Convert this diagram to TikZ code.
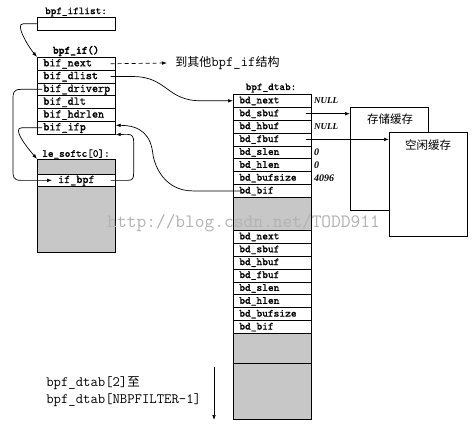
\documentclass[tikz,border=0pt]{standalone}
\usepackage{fontspec}
\setmainfont{Liberation Serif}
\newfontfamily\fldtt[FakeBold=1.2]{Latin Modern Mono}
\newfontfamily\boldtt[FakeBold=3]{Latin Modern Mono}
\newfontfamily\plaintt{Latin Modern Mono}
\newfontfamily\cjk{Noto Sans CJK SC}
\usetikzlibrary{arrows.meta}
\begin{document}
\begin{tikzpicture}[x=1pt,y=-1pt, line width=0.7pt,
 fld/.style={draw, fill=white, anchor=north west, minimum width=78pt, minimum height=12.8pt, text width=66pt, inner xsep=6pt, inner ysep=0pt, text height=7.5pt, text depth=2.3pt, align=left, font=\fldtt\fontsize{11.8}{13}\selectfont},
 dfld/.style={fld, minimum height=12.875pt, font=\fldtt\fontsize{10.9}{12}\selectfont},
 grayblk/.style={draw, fill=black!22, anchor=north west, minimum width=78pt, inner sep=0pt},
 ttl/.style={font=\fldtt\fontsize{10.7}{12}\selectfont, inner sep=0pt},
 val/.style={anchor=west, inner sep=0pt, font=\bfseries\itshape\fontsize{9}{11}\selectfont},
 arr/.style={-{Latex[length=5pt,width=3.6pt]}},
 buf/.style={draw, fill=white, anchor=north west, minimum width=78pt, minimum height=103pt, inner sep=0pt},
 cjkl/.style={font=\cjk\fontsize{11.5}{13}\selectfont, inner sep=0pt},
 mlab/.style={anchor=west, inner sep=0pt, font=\plaintt\fontsize{14.3}{16}\selectfont},
]
\fill[white] (0,0) rectangle (476,425);
\useasboundingbox (0,0) rectangle (476,425);

% titles
\node[ttl] (tifl) at (76,12) {bpf\_iflist:};
\node[ttl, font=\boldtt\fontsize{11}{12}\selectfont] (tif) at (76,51) {bpf\_if()};
\node[ttl] (tls) at (76,154) {le\_softc[0]:};
\node[ttl] (tdt) at (271,88) {bpf\_dtab:};

% bpf_iflist box
\node[draw, anchor=north west, minimum width=78pt, minimum height=13pt, inner sep=0pt] (ifl) at (37,17) {};

% bpf_if rows
\foreach \t [count=\i] in {bif\_next,bif\_dlist,bif\_driverp,bif\_dlt,bif\_hdrlen,bif\_ifp}
  \node[fld] (if\i) at (37,{57+12.8*(\i-1)}) {\t};

% le_softc
\node[grayblk, minimum height=93pt] (ls) at (37,159) {};
\node[fld, align=center, minimum height=12pt] (ifb) at (37,174) {if\_bpf};

% bpf_dtab rows
\foreach \t [count=\i] in {bd\_next,bd\_sbuf,bd\_hbuf,bd\_fbuf,bd\_slen,bd\_hlen,bd\_bufsize,bd\_bif}
  \node[dfld] (dt\i) at (233,{94+12.875*(\i-1)}) {\t};
\node[grayblk, minimum height=33pt] (g1) at (233,197) {};
\foreach \t [count=\i] in {bd\_next,bd\_sbuf,bd\_hbuf,bd\_fbuf,bd\_slen,bd\_hlen,bd\_bufsize,bd\_bif}
  \node[dfld] (dd\i) at (233,{230+12.875*(\i-1)}) {\t};
\node[grayblk, minimum height=30pt] (g2) at (233,333) {};
\node[grayblk, minimum height=56pt] (g3) at (233,363) {};

% values
\node[val] (v1) at ([xshift=2pt]dt1.east) {NULL};
\node[val] (v3) at ([xshift=2pt]dt3.east) {NULL};
\node[val, font=\bfseries\itshape\fontsize{10}{12}\selectfont] (v5) at ([xshift=2pt]dt5.east) {0};
\node[val, font=\bfseries\itshape\fontsize{10}{12}\selectfont] (v6) at ([xshift=2pt]dt6.east) {0};
\node[val, font=\bfseries\itshape\fontsize{10}{12}\selectfont] (v7) at ([xshift=2pt]dt7.east) {4096};

% buffers
\node[buf] (b1) at (350,107) {};
\node[cjkl] (b1t) at (390,119) {存储缓存};
\node[buf, minimum height=104pt] (b2) at (389,132) {};
\node[cjkl] (b2t) at (428,145) {空闲缓存};

% other text
\node[anchor=west, inner sep=0pt, font=\cjk\fontsize{12}{14}\selectfont] (oth) at (175,63) {到其他{\plaintt\fontsize{14.3}{14}\selectfont bpf\_if}结构};
\node[mlab] (r1) at (46,383) {bpf\_dtab[2]{\cjk\fontsize{12.5}{14}\selectfont 至}};
\node[mlab] (r2) at (46,400) {bpf\_dtab[NBPFILTER-1]};
\coordinate (ds) at (214,367);
\coordinate (de) at (214,420);

% connectors
\draw[arr] (ifl.west) -- ++(-14,0) .. controls +(-8,0) and +(-10,-12) .. (if1.north west);
\draw[arr, dashed, dash pattern=on 4pt off 3pt] ([xshift=-5pt]if1.east) -- ([xshift=-8pt]oth.west);
\draw[arr] ([xshift=-5pt]if2.east) -- ++(22,0) .. controls +(35,0) and +(-35,0) .. ([xshift=-32pt]dt1.west) -- (dt1.west);
\draw[arr] ([xshift=5pt]if3.west) -- ++(-21,0) .. controls +(-8,0) and +(0,-6) .. ++(-8,10) -- ++(0,71) .. controls +(0,6) and +(-8,0) .. ++(8,10) -- ([xshift=15pt]ifb.west);
\draw[arr] ([xshift=5pt]if6.west) -- ++(-20,0) .. controls +(-10,0) and +(-12,-14) .. (ls.north west);
\draw[arr] ([xshift=-5pt]ifb.east) -- ++(17,0) .. controls +(5,0) and +(0,6) .. ++(6,-8) -- ++(0,-30) .. controls +(0,-5) and +(5,0) .. ++(-6,-8) -- (if6.south east);
\draw[arr] ([xshift=8pt]dt8.west) -- ++(-48,0) .. controls +(-28,0) and +(2,12) .. ++(-40,-36) .. controls +(-2,-20) and +(25,0) .. ([yshift=2.4pt]if6.east);
\draw[arr] ([xshift=-6pt]dt2.east) -- (dt2.east -| b1.west);
\draw[arr] ([xshift=-6pt]dt4.east) -- (dt4.east -| b2.west);
\draw[arr] (ds) -- (de);

% watermark
\node[anchor=base west, inner sep=0pt, text=black!30, font=\plaintt\fontsize{18.9}{20}\selectfont] (wm) at (107,227) {http://blog.csdn.net/TODD911};
\end{tikzpicture}
\end{document}
